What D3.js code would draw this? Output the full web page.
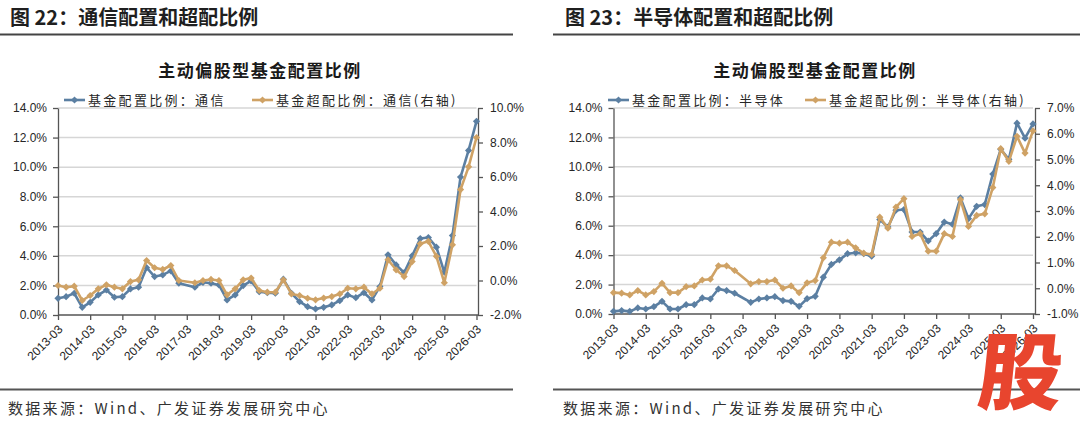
<!DOCTYPE html>
<html><head><meta charset="utf-8">
<script src="https://cdn.jsdelivr.net/npm/d3@7/dist/d3.min.js"></script>
<style>
html,body{margin:0;padding:0;background:#fff;}
svg{display:block;}
</style></head>
<body>
<svg id="c" width="1080" height="427"></svg>
<script>
// ---------- DATA ----------
const quarters = ["2013-03","2013-06","2013-09","2013-12","2014-03","2014-06","2014-09","2014-12",
"2015-03","2015-06","2015-09","2015-12","2016-03","2016-06","2016-09","2016-12",
"2017-03","2017-06","2017-09","2017-12","2018-03","2018-06","2018-09","2018-12",
"2019-03","2019-06","2019-09","2019-12","2020-03","2020-06","2020-09","2020-12",
"2021-03","2021-06","2021-09","2021-12","2022-03","2022-06","2022-09","2022-12",
"2023-03","2023-06","2023-09","2023-12","2024-03","2024-06","2024-09","2024-12",
"2025-03","2025-06","2025-09","2025-12","2026-03"];
const yearTicks = ["2013-03","2014-03","2015-03","2016-03","2017-03","2018-03","2019-03",
"2020-03","2021-03","2022-03","2023-03","2024-03","2025-03","2026-03"];

// 通信 (%)
const telecomAlloc = [1.13,1.24,1.47,0.52,0.86,1.36,1.69,1.20,1.24,1.76,1.88,3.20,2.60,2.71,2.98,2.15,
null,1.88,2.21,2.15,2.03,1.02,1.36,1.99,2.30,1.58,1.51,1.47,2.42,1.47,0.90,0.56,0.41,0.52,0.68,0.97,
1.36,1.17,1.51,1.02,1.92,4.07,3.39,2.86,4.00,5.17,5.24,4.59,2.89,5.37,9.33,11.13,13.10];
const telecomOver = [-0.29,-0.39,-0.33,-1.16,-0.87,-0.48,-0.25,-0.39,-0.48,-0.06,0.04,1.16,0.74,0.64,0.87,0.00,
null,-0.13,0.00,0.06,0.00,-0.83,-0.48,0.04,0.14,-0.58,-0.68,-0.68,0.04,-0.78,-0.87,-1.03,-1.12,-1.02,-0.93,-0.78,
-0.45,-0.48,-0.39,-0.78,-0.45,1.20,0.62,0.23,1.10,2.13,2.27,1.40,-0.13,2.07,5.27,6.59,8.29];

// 半导体 (%)
const semiAlloc = [0.18,0.23,0.18,0.41,0.34,0.50,0.86,0.34,0.34,0.63,0.63,1.09,1.02,1.70,1.59,1.41,
null,0.79,1.02,1.09,1.18,0.91,0.86,0.52,1.04,1.20,2.50,3.37,3.68,4.10,4.16,4.10,3.93,6.42,5.91,7.05,
7.10,5.57,5.57,4.96,5.46,6.25,6.10,7.89,6.48,7.32,7.44,9.51,11.19,10.51,12.97,11.95,12.92];
const semiOver = [-0.17,-0.19,-0.26,-0.09,-0.26,-0.13,0.19,-0.17,-0.17,0.06,0.09,0.32,0.35,0.87,0.87,0.69,
null,0.17,0.26,0.26,0.32,0.00,0.09,-0.17,0.21,0.30,1.18,1.79,1.75,1.79,1.57,1.36,1.31,2.76,2.33,3.15,
3.48,2.01,2.12,1.44,1.44,2.12,2.01,3.44,2.40,2.83,2.89,3.91,5.42,4.93,5.90,5.25,6.11];

const leftTicks = [0,2,4,6,8,10,12,14];
const telecomRightTicks = [-2,0,2,4,6,8,10];
const semiRightTicks = [-1,0,1,2,3,4,5,6,7];

const figTitles = ["图 22：通信配置和超配比例","图 23：半导体配置和超配比例"];
const chartTitle = "主动偏股型基金配置比例";
const legendTelecom = ["基金配置比例：通信","基金超配比例：通信(右轴)"];
const legendSemi = ["基金配置比例：半导体","基金超配比例：半导体(右轴)"];
const sourceText = "数据来源：Wind、广发证券发展研究中心";

// ---------- STYLE ----------
const BLUE = "#5b7fa2", ORANGE = "#cfa265";
const NUMFONT = "'Liberation Sans', Arial, sans-serif";
const CJK = "'Noto Sans CJK SC', 'Noto Sans', sans-serif";
const svg = d3.select("#c");
const parse = d3.timeParse("%Y-%m");
const fmt = d => d.toFixed(1) + "%";

function panel(cfg){
  const g = svg.append("g");
  // figure title
  g.append("text").attr("x", cfg.ox + 10).attr("y", 25)
    .attr("font-family", CJK).attr("font-weight", 700).attr("font-size", 20)
    .attr("fill", "#1f1f1f").text(cfg.figTitle);
  g.append("line").attr("x1", cfg.lineX0).attr("x2", cfg.lineX1).attr("y1", 34.5).attr("y2", 34.5)
    .attr("stroke", "#444").attr("stroke-width", 2);
  g.append("line").attr("x1", cfg.lineX0).attr("x2", cfg.lineX1).attr("y1", 389.5).attr("y2", 389.5)
    .attr("stroke", "#555").attr("stroke-width", 2);
  g.append("text").attr("x", cfg.ox + 8).attr("y", 414)
    .attr("font-family", CJK).attr("font-size", 15).attr("letter-spacing", 2.3)
    .attr("fill", "#333").text(sourceText);
  // chart title
  g.append("text").attr("x", cfg.titleX).attr("y", 77).attr("text-anchor", "middle")
    .attr("font-family", CJK).attr("font-weight", 700).attr("font-size", 17).attr("letter-spacing", 1.5)
    .attr("fill", "#1a1a1a").text(chartTitle);

  const x = d3.scaleTime().domain([parse(quarters[0]), parse(quarters[quarters.length-1])]).range(cfg.xr);
  const yL = d3.scaleLinear().domain([0, 14]).range([cfg.yb, cfg.yt]);
  const yR = d3.scaleLinear().domain(cfg.rDom).range([cfg.yb, cfg.yt]);

  // grid
  g.append("g").selectAll("line").data(leftTicks.slice(1)).join("line")
    .attr("x1", cfg.xr[0]).attr("x2", cfg.xr[1]).attr("y1", d => yL(d)).attr("y2", d => yL(d))
    .attr("stroke", "#d6d6d6").attr("stroke-width", 1.5);

  const axisStyle = sel => {
    sel.selectAll("path,line").attr("stroke", "#555").attr("stroke-width", 1.3);
    sel.selectAll("text").attr("font-family", NUMFONT).attr("font-size", 12).attr("fill", "#262626");
  };
  const la = g.append("g").attr("transform", `translate(${cfg.xr[0]},0)`)
    .call(d3.axisLeft(yL).tickValues(leftTicks).tickFormat(fmt).tickSize(5).tickSizeOuter(0).tickPadding(6));
  axisStyle(la);
  const ra = g.append("g").attr("transform", `translate(${cfg.raX},0)`)
    .call(d3.axisRight(yR).tickValues(cfg.rTicks).tickFormat(fmt).tickSize(5).tickSizeOuter(0).tickPadding(7));
  axisStyle(ra);
  const xa = g.append("g").attr("transform", `translate(0,${cfg.yb})`)
    .call(d3.axisBottom(x).tickValues(yearTicks.map(parse)).tickFormat(d3.timeFormat("%Y-%m")).tickSize(5).tickSizeOuter(0));
  axisStyle(xa);
  xa.select(".domain").attr("d", `M${cfg.xr[0]},0H${cfg.raX}`);
  xa.selectAll("text").attr("text-anchor", "end").attr("dy", "0.35em")
    .attr("transform", "translate(2,12) rotate(-45)").attr("y", 0).attr("x", 0);

  // series
  const series = [
    {vals: cfg.alloc, y: yL, color: BLUE},
    {vals: cfg.over, y: yR, color: ORANGE}
  ];
  const diamond = d3.symbol().type(d3.symbolSquare).size(26);
  series.forEach(s => {
    const pts = quarters.map((q, i) => ({d: parse(q), v: s.vals[i]})).filter(p => p.v !== null);
    g.append("path").datum(pts)
      .attr("d", d3.line().x(p => x(p.d)).y(p => s.y(p.v)))
      .attr("fill", "none").attr("stroke", s.color).attr("stroke-width", 2.6).attr("stroke-linejoin", "round");
    g.append("g").selectAll("path").data(pts).join("path")
      .attr("d", diamond)
      .attr("transform", p => `translate(${x(p.d)},${s.y(p.v)}) rotate(45)`)
      .attr("fill", s.color);
  });

  // legend
  cfg.legend.forEach((t, i) => {
    const lx = cfg.legX[i], ly = 100;
    const col = i === 0 ? BLUE : ORANGE;
    g.append("line").attr("x1", lx).attr("x2", lx + 21).attr("y1", ly).attr("y2", ly)
      .attr("stroke", col).attr("stroke-width", 2.6);
    g.append("path").attr("d", diamond).attr("transform", `translate(${lx + 10.5},${ly}) rotate(45)`).attr("fill", col);
    g.append("text").attr("x", lx + 24).attr("y", ly + 4.5)
      .attr("font-family", CJK).attr("font-size", 13).attr("letter-spacing", 2.3)
      .attr("fill", "#262626").text(t);
  });
}

panel({ox: 0, lineX0: 0, lineX1: 513, titleX: 260, figTitle: figTitles[0],
  xr: [58, 476.5], raX: 478, yb: 315, yt: 108, rDom: [-2, 10], rTicks: telecomRightTicks,
  alloc: telecomAlloc, over: telecomOver, legend: legendTelecom, legX: [64, 252]});
panel({ox: 555, lineX0: 553, lineX1: 1080, titleX: 815, figTitle: figTitles[1],
  xr: [613.5, 1033], raX: 1035, yb: 314, yt: 108, rDom: [-1, 7], rTicks: semiRightTicks,
  alloc: semiAlloc, over: semiOver, legend: legendSemi, legX: [608, 805]});

// watermark glyph
svg.append("text").attr("x", 1018).attr("y", 403).attr("text-anchor", "middle")
  .attr("font-family", CJK).attr("font-weight", 900).attr("font-size", 84)
  .attr("fill", "#e8452e").attr("transform", "skewX(-6) translate(42,0)").text("股");
</script>
</body></html>
